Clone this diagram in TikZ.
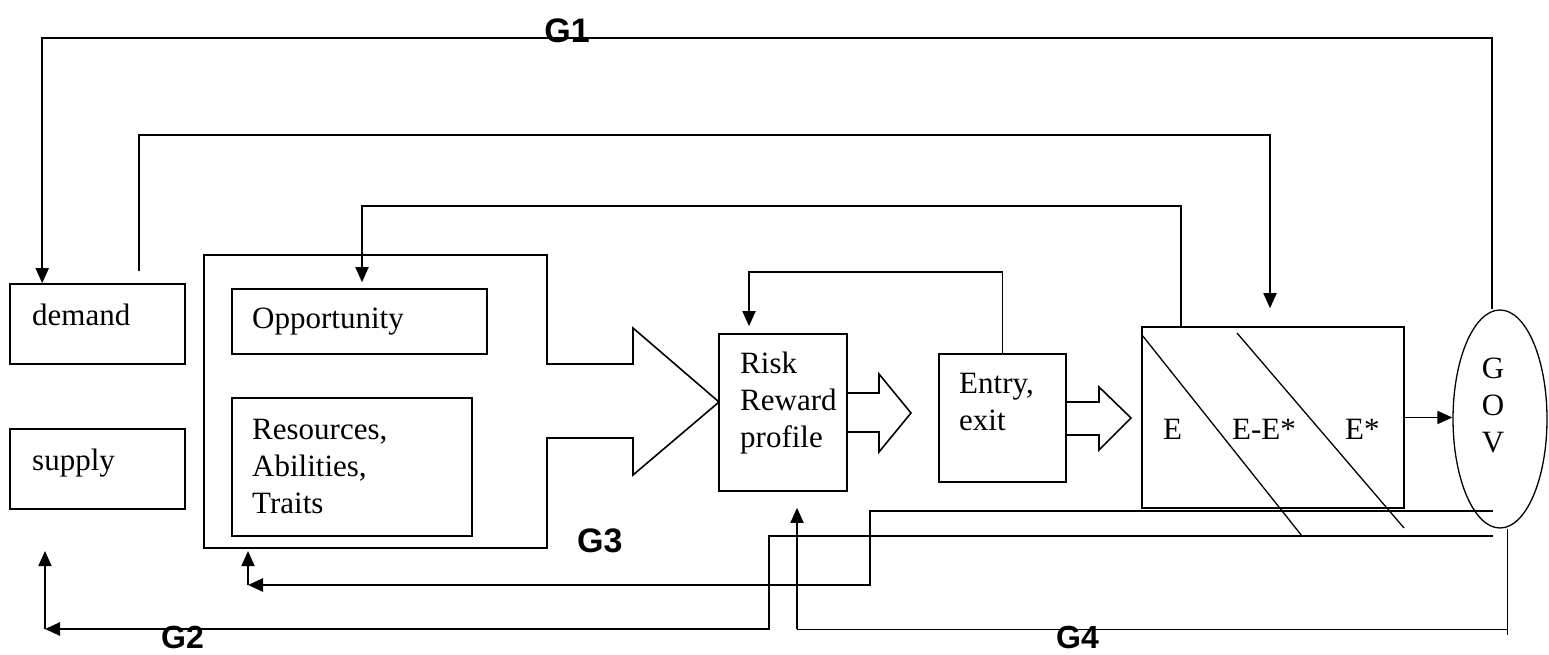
\documentclass[tikz,border=0pt]{standalone}
\usepackage{fontspec}
\setmainfont{Liberation Serif}
\newfontfamily\gfont{Liberation Sans}
\usetikzlibrary{arrows.meta,shapes.geometric}
\begin{document}
\begin{tikzpicture}[x=1pt,y=-1pt,
  boxs/.style={draw, line width=1.6pt, inner sep=0pt, rectangle},
  txt/.style={inner sep=0pt, font=\fontsize{31}{37}\selectfont},
  glab/.style={inner sep=0pt, font=\gfont\bfseries\fontsize{34}{40}\selectfont},
  glabs/.style={inner sep=0pt, font=\gfont\bfseries\fontsize{32}{38}\selectfont},
  conn/.style={line width=1.8pt},
  arr/.style={conn, -{Triangle[length=15pt,width=13pt]}},
  thk/.style={line width=2.6pt},
  thkarr/.style={thk, -{Triangle[length=15pt,width=13pt]}},
  thn/.style={line width=1pt},
  blk/.style={line width=1.6pt},
  diag/.style={line width=1.3pt}]
\useasboundingbox (0,0) rectangle (1549,655);

% boxes
\node[boxs, minimum width=175pt, minimum height=80pt] (demand) at (97.5,324) {};
\node[boxs, minimum width=175pt, minimum height=80pt] (supply) at (97.5,469) {};
\node[boxs, minimum width=255pt, minimum height=65pt] (opp) at (359.5,321.5) {};
\node[boxs, minimum width=240pt, minimum height=138pt] (res) at (352,467) {};
\node[boxs, minimum width=128pt, minimum height=157pt] (risk) at (783,412.5) {};
\node[boxs, minimum width=127pt, minimum height=128pt] (entry) at (1002.5,418) {};
\node[boxs, minimum width=262pt, minimum height=181pt] (ebox) at (1273,417.5) {};
\node[draw, ellipse, line width=1.3pt, minimum width=94pt, minimum height=218pt, inner sep=0pt] (gov) at (1500,419) {};

% block arrows
\draw[blk] (204,255) -- (547,255) -- (547,364) -- (633,364) -- (633,328) -- (719,402)
  -- (633,475) -- (633,438) -- (547,438) -- (547,548) -- (204,548) -- cycle;
\draw[blk] (847,393) -- (879,393) -- (879,374) -- (911,413) -- (879,452) -- (879,432) -- (847,432);
\draw[blk] (1066,402) -- (1099,402) -- (1099,387) -- (1131,418) -- (1099,450) -- (1099,435) -- (1066,435);

% diagonals in E box
\draw[diag] (1142,335) -- (1302,536);
\draw[diag] (1237,333) -- (1404,528);

% texts
\node[txt, anchor=base west] (tdemand) at (32,325) {demand};
\node[txt, anchor=base west] (tsupply) at (32,470) {supply};
\node[txt, anchor=base west] (topp) at (252,328) {Opportunity};
\node[txt, anchor=north west, align=left] (tres) at (252,413.1) {\strut Resources,\\Abilities,\\Traits};
\node[txt, anchor=north west, align=left] (trisk) at (740,347.1) {\strut Risk\\Reward\\profile};
\node[txt, anchor=north west, align=left] (tentry) at (959,367.1) {\strut Entry,\\exit};
\node[txt, anchor=base west] (tE) at (1163,439) {E};
\node[txt, anchor=base west] (tEE) at (1232,439) {E-E*};
\node[txt, anchor=base west] (tEs) at (1345,439) {E*};
\node[txt, anchor=north, align=center] (tgov) at (1493,352.1) {\strut G\\O\\V};

\node[glab, anchor=base] (g1) at (567,43) {G1};
\node[glabs, anchor=base west] (g2) at (161,648) {G2};
\node[glab, anchor=base west] (g3) at (577,552) {G3};
\node[glabs, anchor=base west] (g4) at (1056,648) {G4};

% coordinates
\coordinate (l1) at (0,38);
\coordinate (l2) at (0,135);
\coordinate (l3) at (0,206);
\coordinate (l4) at (0,272);
\coordinate (govTop) at ([xshift=-8pt]gov.north);
\coordinate (dIn) at ([xshift=33pt]demand.north west);
\coordinate (dOut) at ([xshift=130pt,yshift=12pt]demand.north west);
\coordinate (ebIn) at ([xshift=-3pt,yshift=18pt]ebox.north);
\coordinate (ebOut) at ([xshift=40pt]ebox.north west);
\coordinate (oppIn) at ([xshift=2.5pt,yshift=6pt]opp.north);
\coordinate (riskIn) at ([xshift=-34pt,yshift=7pt]risk.north);
\coordinate (g3s) at (1493,511);
\coordinate (g3c) at (870,585);
\coordinate (g3e) at (248,585);
\coordinate (outIn) at (248,551);
\coordinate (g2s) at (1493,536);
\coordinate (g2c) at (769,629);
\coordinate (g2e) at (45,629);
\coordinate (supIn) at (45,551);
\coordinate (govBot) at ([xshift=7pt]gov.south);
\coordinate (g4c) at (1507,629);
\coordinate (g4e) at (1507,635);
\coordinate (riskBot) at ([xshift=14pt,yshift=-16pt]risk.south);

% connectors
\draw[arr] (govTop) -- (govTop |- l1) -| (dIn);
\draw[arr] (dOut) -- (dOut |- l2) -| (ebIn);
\draw[arr] (ebOut) -- (ebOut |- l3) -| (oppIn);
\draw[arr] (entry.north) -- (entry.north |- l4) -| (riskIn);
\draw[arr] (ebox.east) -- (ebox.east -| gov.west);

\draw[thkarr] (g3s) -| (g3c) -- (g3e);
\draw[arr] (g3e) -- (outIn);
\draw[thkarr] (g2s) -| (g2c) -- (g2e);
\draw[arr] (g2e) -- (supIn);

\draw[thn] (govBot) -- (g4e);
\draw[thn] (g4c) -- (g4c -| riskBot);
\draw[arr] (g4c -| riskBot) -- (riskBot);
\end{tikzpicture}
\end{document}
